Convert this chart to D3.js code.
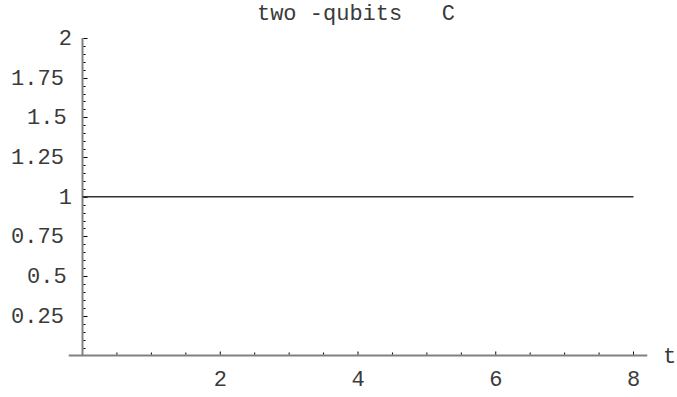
<!DOCTYPE html>
<html>
<head>
<meta charset="utf-8">
<script src="https://cdn.jsdelivr.net/npm/d3@7"></script>
<style>
  body { margin: 0; background: #fff; }
  text { font-family: "Liberation Mono", "Courier New", monospace; fill: #3a3a3a; }
</style>
</head>
<body>
<div id="chart"></div>
<script>
/** two-qubits C, constant curve *******************/

// Data
var tValues = [0, 8];
var cValues = [1, 1];

// Axis ticks
var xMajor = [2, 4, 6, 8];
var yMajor = [0.25, 0.5, 0.75, 1, 1.25, 1.5, 1.75, 2];
var yLabels = ["0.25", "0.5", "0.75", "1", "1.25", "1.5", "1.75", "2"];
var titleText = "two -qubits   C";
var xAxisName = "t";

var width = 677;
var height = 397;
var fontSize = "22px";

var svg = d3.select("#chart").append("svg")
    .attr("width", width)
    .attr("height", height);

// Scales (origin sits at the axis crossing)
var x = d3.scaleLinear().domain([0, 8]).range([82.5, 633.5]);
var y = d3.scaleLinear().domain([0, 2]).range([355.5, 38]);

var axisColor = "#808080";

// x axis line, with a little padding either side
svg.append("line")
    .attr("x1", x(-0.2)).attr("x2", x(8.2))
    .attr("y1", y(0)).attr("y2", y(0))
    .style("stroke", axisColor)
    .style("stroke-width", 2);

// y axis line
svg.append("line")
    .attr("x1", x(0)).attr("x2", x(0))
    .attr("y1", y(0)).attr("y2", y(2))
    .style("stroke", axisColor)
    .style("stroke-width", 2);

// x minor ticks every 0.5, point up
var xTicks = d3.range(0.5, 8.01, 0.5);
svg.selectAll(".xtick")
    .data(xTicks)
  .enter().append("line")
    .attr("class", "xtick")
    .attr("x1", function(d) { return x(d); })
    .attr("x2", function(d) { return x(d); })
    .attr("y1", y(0) - 1)
    .attr("y2", function(d) { return y(0) - (d % 2 === 0 ? 4 : 3); })
    .style("stroke", "#000")
    .style("stroke-width", 1);

// y minor ticks every 0.05, point right
var yTicks = d3.range(1, 41).map(function(i) { return i * 0.05; });
svg.selectAll(".ytick")
    .data(yTicks)
  .enter().append("line")
    .attr("class", "ytick")
    .attr("x1", x(0) + 1)
    .attr("x2", function(d, i) { return x(0) + ((i + 1) % 5 === 0 ? 5 : 3); })
    .attr("y1", function(d) { return Math.round(y(d)) + 0.5; })
    .attr("y2", function(d) { return Math.round(y(d)) + 0.5; })
    .style("stroke", "#000")
    .style("stroke-width", 1);

// x labels
svg.selectAll(".xlabel")
    .data(xMajor)
  .enter().append("text")
    .attr("class", "xlabel")
    .attr("x", function(d) { return x(d); })
    .attr("y", 386)
    .attr("text-anchor", "middle")
    .style("font-size", fontSize)
    .text(function(d) { return d; });

// y labels -- longer labels sit a bit further left, as in the original
svg.selectAll(".ylabel")
    .data(yMajor)
  .enter().append("text")
    .attr("class", "ylabel")
    .attr("x", function(d, i) { return 72 - 2.7 * (yLabels[i].length - 1); })
    .attr("y", function(d) { return y(d) + 7; })
    .attr("text-anchor", "end")
    .style("font-size", fontSize)
    .text(function(d, i) { return yLabels[i]; });

// axis name
svg.append("text")
    .attr("x", 663)
    .attr("y", y(0) + 7)
    .style("font-size", fontSize)
    .text(xAxisName);

// title
svg.append("text")
    .attr("x", 356)
    .attr("y", 20)
    .attr("text-anchor", "middle")
    .style("font-size", fontSize)
    .style("white-space", "pre")
    .attr("xml:space", "preserve")
    .text(titleText);

// the curve
var line = d3.line()
    .x(function(d, i) { return x(tValues[i]); })
    .y(function(d) { return y(d); });

svg.append("path")
    .datum(cValues)
    .attr("d", line)
    .style("fill", "none")
    .style("stroke", "#333")
    .style("stroke-width", 1.3);
</script>
</body>
</html>
